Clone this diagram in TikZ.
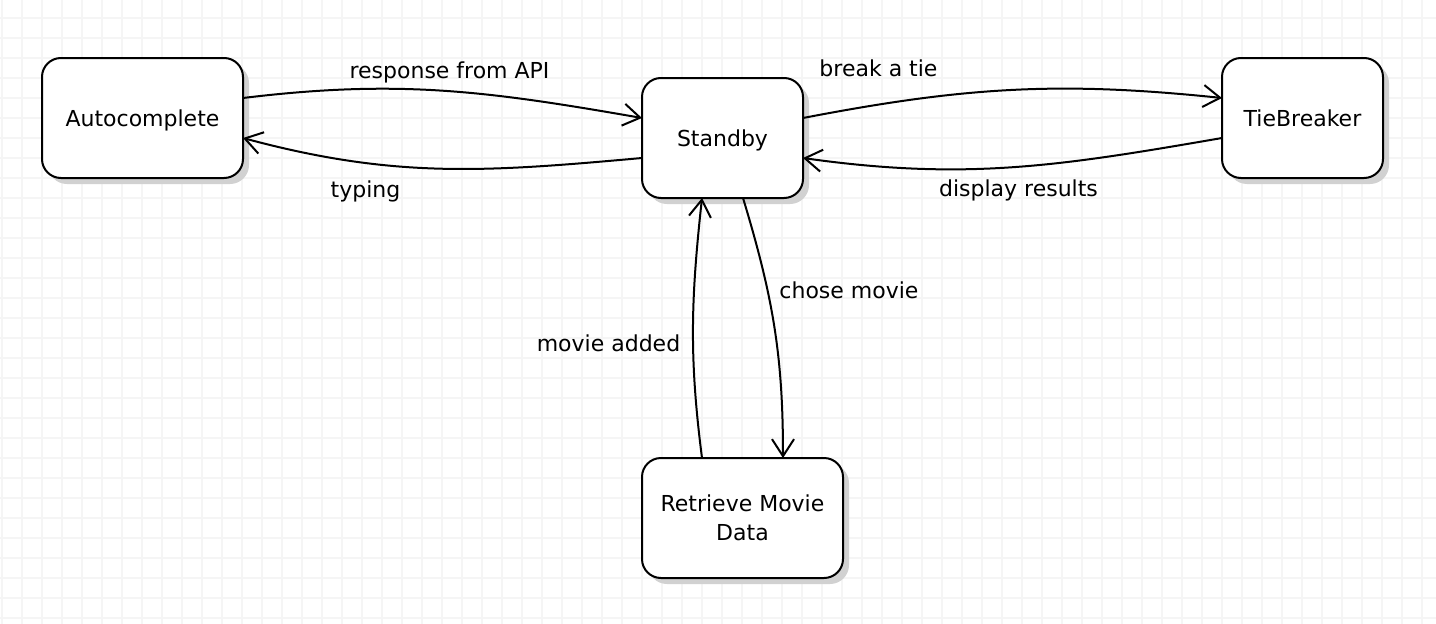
\documentclass[tikz,border=0pt]{standalone}
\usepackage{fontspec}
\setmainfont{DejaVu Sans}
\usetikzlibrary{arrows.meta,shadows}
\begin{document}
\begin{tikzpicture}[x=1pt,y=-1pt,
  state/.style={draw=black, line width=2pt, fill=white, rounded corners=19pt,
    minimum height=120pt, outer sep=0pt, inner sep=0pt,
    font=\fontsize{22}{29}\selectfont, align=center,
    drop shadow={shadow xshift=6pt,shadow yshift=-6pt,fill=black!18,opacity=1}},
  oneline/.style={text height=16pt, text depth=0pt},
  lbl/.style={font=\fontsize{22}{29}\selectfont, anchor=base, inner sep=0pt},
  trans/.style={line width=2pt, -{Straight Barb[length=17pt,width=22pt]}},
  gridline/.style={black!4, line width=1.5pt}]
\useasboundingbox (0,0) rectangle (1436,624);
\fill[white] (0,0) rectangle (1436,624);
\foreach \x in {2,22,...,1436} \draw[gridline] (\x,0) -- (\x,624);
\foreach \y in {18,38,...,624} \draw[gridline] (0,\y) -- (1436,\y);

\node[state, oneline, minimum width=201pt] (auto) at (142.5,118) {Autocomplete};
\node[state, oneline, minimum width=161pt] (stb) at (722.5,138) {Standby};
\node[state, oneline, minimum width=161pt] (tie) at (1302.5,118) {TieBreaker};
\node[state, minimum width=201pt] (ret) at (742.5,518) {Retrieve Movie\\Data};

\draw[trans] ([yshift=20pt]auto.east) .. controls +(156,-19) and +(-155,-27) .. ([yshift=20pt]stb.west);
\draw[trans] ([yshift=-20pt]stb.west) .. controls +(-156,14) and +(152,41) .. ([yshift=-20pt]auto.east);
\draw[trans] ([yshift=20pt]stb.east) .. controls +(161,-31) and +(-163,-17) .. ([yshift=20pt]tie.west);
\draw[trans] ([yshift=-20pt]tie.west) .. controls +(-162,28) and +(163,23) .. ([yshift=-20pt]stb.east);
\draw[trans] ([xshift=20.5pt]stb.south) .. controls +(30,99) and +(0,-103) .. ([xshift=40.5pt]ret.north);
\draw[trans] ([xshift=-40.5pt]ret.north) .. controls +(-13,-101) and +(-11,101) .. ([xshift=-20.5pt]stb.south);

\node[lbl] (lresp) at (449.5,78) {response from API};
\node[lbl] (ltyp) at (365.5,197) {typing};
\node[lbl] (lbrk) at (878.5,76) {break a tie};
\node[lbl] (ldisp) at (1018.5,196) {display results};
\node[lbl] (lchose) at (849,298) {chose movie};
\node[lbl] (ladd) at (608.5,351) {movie added};
\end{tikzpicture}
\end{document}
